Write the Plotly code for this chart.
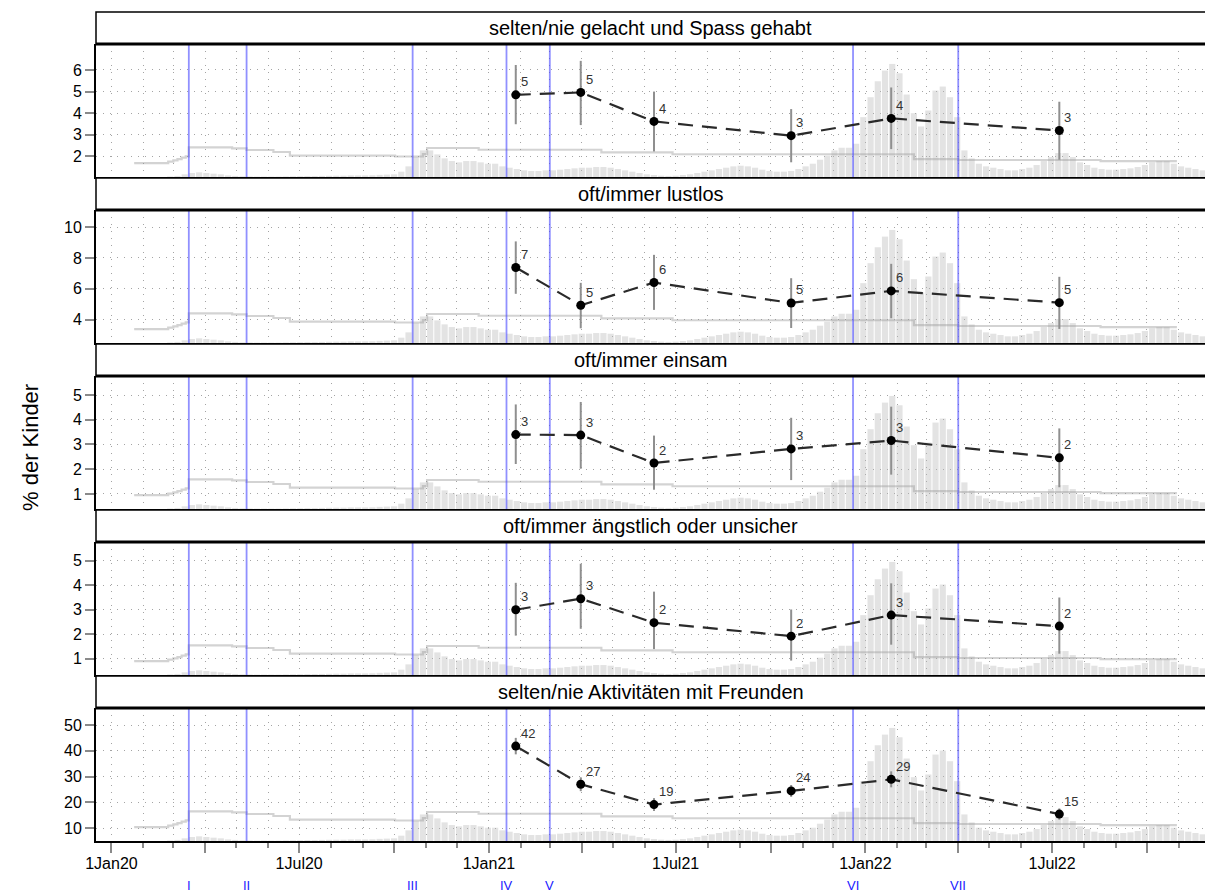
import pandas as pd
import plotly.graph_objects as go

# ---------------- data ----------------
panel_titles = [
    "selten/nie gelacht und Spass gehabt",
    "oft/immer lustlos",
    "oft/immer einsam",
    "oft/immer ängstlich oder unsicher",
    "selten/nie Aktivitäten mit Freunden",
]

survey_dates = ["2021-01-27", "2021-03-31", "2021-06-10", "2021-10-21", "2022-01-26", "2022-07-08"]

lachen_val = [4.85, 4.96, 3.62, 2.96, 3.76, 3.20]
lachen_lo = [3.49, 3.45, 2.23, 1.73, 2.34, 1.85]
lachen_hi = [6.23, 6.42, 5.00, 4.19, 5.19, 4.53]

lustlos_val = [7.38, 4.94, 6.41, 5.09, 5.87, 5.11]
lustlos_lo = [5.68, 3.45, 4.64, 3.47, 4.10, 3.41]
lustlos_hi = [9.07, 6.39, 8.20, 6.69, 7.62, 6.78]

einsam_val = [3.40, 3.38, 2.25, 2.82, 3.16, 2.46]
einsam_lo = [2.21, 2.02, 1.17, 1.56, 1.78, 1.27]
einsam_hi = [4.62, 4.72, 3.36, 4.08, 4.53, 3.65]

angst_val = [3.00, 3.45, 2.47, 1.92, 2.78, 2.33]
angst_lo = [1.94, 2.22, 1.39, 0.92, 1.57, 1.20]
angst_hi = [4.10, 4.88, 3.74, 3.01, 4.08, 3.50]

freunde_val = [41.8, 27.0, 19.1, 24.4, 28.9, 15.4]
freunde_lo = [38.6, 24.3, 16.6, 22.1, 25.8, 13.2]
freunde_hi = [45.0, 29.7, 21.6, 26.7, 32.0, 17.6]

y_ranges = [[1.05, 7.2], [2.5, 11.1], [0.39, 5.77], [0.33, 5.77], [4.95, 56.6]]
y_ticks = [[2, 3, 4, 5, 6], [4, 6, 8, 10], [1, 2, 3, 4, 5], [1, 2, 3, 4, 5], [10, 20, 30, 40, 50]]

event_dates = ["2020-03-16", "2020-05-11", "2020-10-19", "2021-01-18", "2021-03-01", "2021-12-20", "2022-04-01"]
event_labels = ["I", "II", "III", "IV", "V", "VI", "VII"]

# background: weekly case level (share of panel height), weeks starting 2020-02-24
cases_start = "2020-02-24"
cases_frac = [
    0.004,
    0.008, 0.02, 0.03, 0.035, 0.03,
    0.025, 0.02, 0.012, 0.008,
    0.005, 0.004, 0.003, 0.003,
    0.003, 0.003, 0.004, 0.005, 0.006,
    0.007, 0.007, 0.008, 0.009,
    0.01, 0.01, 0.012, 0.012, 0.012,
    0.013, 0.016, 0.018, 0.02,
    0.04, 0.08, 0.15, 0.2,
    0.2, 0.17, 0.14, 0.12, 0.11,
    0.12, 0.12, 0.11, 0.10,
    0.10, 0.08, 0.07, 0.06,
    0.05, 0.045, 0.045, 0.05,
    0.05, 0.055, 0.06, 0.065, 0.07,
    0.07, 0.075, 0.075, 0.07,
    0.06, 0.05, 0.04, 0.03, 0.02,
    0.015, 0.01, 0.008, 0.01,
    0.015, 0.02, 0.03, 0.04,
    0.05, 0.06, 0.07, 0.08, 0.085,
    0.08, 0.07, 0.055, 0.045,
    0.04, 0.04, 0.045, 0.06,
    0.08, 0.10, 0.13, 0.16, 0.2,
    0.22, 0.22, 0.25, 0.45,
    0.6, 0.72, 0.8, 0.85, 0.78,
    0.62, 0.48, 0.38, 0.5,
    0.65, 0.68, 0.6, 0.45,
    0.2, 0.14, 0.10, 0.08,
    0.07, 0.06, 0.05, 0.05, 0.06,
    0.07, 0.09, 0.12, 0.15,
    0.18, 0.18, 0.15, 0.11,
    0.09, 0.07, 0.06, 0.055, 0.055,
    0.06, 0.065, 0.075, 0.09,
    0.11, 0.12, 0.12, 0.10, 0.08,
    0.07, 0.06, 0.05,
]

# background step line (share of panel height)
step_dates = ["2020-01-23", "2020-02-25", "2020-03-01", "2020-03-05", "2020-03-09", "2020-03-13",
              "2020-03-16", "2020-04-27", "2020-05-11", "2020-06-06", "2020-06-22", "2020-10-02",
              "2020-10-29", "2020-11-02", "2020-12-22", "2021-04-20", "2021-06-28", "2022-02-17",
              "2022-04-01", "2022-08-17", "2022-10-30"]
step_frac = [0.105, 0.115, 0.125, 0.135, 0.145, 0.155,
             0.222, 0.215, 0.203, 0.188, 0.16, 0.154,
             0.172, 0.218, 0.205, 0.185, 0.171, 0.135,
             0.128, 0.12, 0.12]

series = [
    (lachen_val, lachen_lo, lachen_hi),
    (lustlos_val, lustlos_lo, lustlos_hi),
    (einsam_val, einsam_lo, einsam_hi),
    (angst_val, angst_lo, angst_hi),
    (freunde_val, freunde_lo, freunde_hi),
]

# ---------------- layout geometry ----------------
W, H = 1205, 896
XL = 96 / W
FONT = "Liberation Sans, Arial, sans-serif"
GRID = "#a4a4a4"
TICKC = "#8a8a8a"

week_dates = pd.date_range(cases_start, periods=len(cases_frac), freq="7D")
quarters = pd.date_range("2020-01-01", "2022-10-01", freq="QS")
qtext = [f"{d.day}{d.strftime('%b%y')}" if d.month in (1, 7) else "" for d in quarters]

fig = go.Figure()
layout = dict(
    template="none",
    width=W, height=H, margin=dict(l=0, r=0, t=0, b=0, pad=0, autoexpand=False),
    paper_bgcolor="white", plot_bgcolor="white", showlegend=False,
    font=dict(family=FONT, color="black"),
    shapes=[], annotations=[],
)

for k in range(5):
    n = k + 1
    xa, ya = f"x{n}", f"y{n}"
    top_px = 44 + 166 * k
    bot_px = 177 + 166 * k
    y0, y1 = y_ranges[k]
    span = y1 - y0
    val, lo, hi = series[k]

    # background bars
    fig.add_trace(go.Bar(
        x=week_dates, y=[f * span for f in cases_frac], base=y0,
        width=6 * 86400000, offset=0,
        marker=dict(color="rgba(185,185,185,0.40)", line=dict(width=0)),
        xaxis=xa, yaxis=ya, hoverinfo="skip"))
    # background step line
    fig.add_trace(go.Scatter(
        x=step_dates, y=[y0 + f * span for f in step_frac], mode="lines",
        line=dict(color="rgba(150,150,150,0.42)", width=2.2, shape="hv"),
        xaxis=xa, yaxis=ya, hoverinfo="skip"))
    # event lines
    ex, ey = [], []
    for d in event_dates:
        ex += [d, d, None]
        ey += [y0, y1, None]
    fig.add_trace(go.Scatter(
        x=ex, y=ey, mode="lines", line=dict(color="rgba(70,70,255,0.6)", width=1.8),
        xaxis=xa, yaxis=ya, hoverinfo="skip"))
    # error bars
    fig.add_trace(go.Scatter(
        x=survey_dates, y=val, mode="markers",
        marker=dict(color="rgba(0,0,0,0)", size=2),
        error_y=dict(type="data", symmetric=False,
                     array=[h - v for h, v in zip(hi, val)],
                     arrayminus=[v - l for v, l in zip(val, lo)],
                     color="#8f8f8f", thickness=2, width=0),
        xaxis=xa, yaxis=ya, hoverinfo="skip"))
    # estimates
    fig.add_trace(go.Scatter(
        x=survey_dates, y=val, mode="lines+markers",
        line=dict(color="#2a2a2a", width=2.2, dash="15px,9px"),
        marker=dict(color="black", size=9),
        xaxis=xa, yaxis=ya, hoverinfo="skip"))
    for d, v in zip(survey_dates, val):
        layout["annotations"].append(dict(
            x=d, y=v, xref=xa, yref=ya, text=str(round(v)), showarrow=False,
            xanchor="left", yanchor="middle", xshift=3, yshift=13,
            font=dict(size=13, color="#333333", family=FONT)))

    dom_y = [1 - bot_px / H, 1 - top_px / H]
    bottom = (k == 4)
    layout[f"xaxis{n}" if n > 1 else "xaxis"] = dict(
        type="date", range=["2019-12-17", "2022-11-26 06:00"], domain=[XL, 1],
        anchor=ya, automargin=False, tickmode="array", tickvals=quarters, ticktext=qtext,
        showticklabels=bottom, ticks="outside" if bottom else "", ticklabelstandoff=-3,
        ticklen=10, tickwidth=1.5, tickcolor=TICKC, tickfont=dict(size=16, family=FONT),
        showgrid=True, gridcolor=GRID, gridwidth=1, griddash="1px,6px",
        minor=dict(dtick="M1", tick0="2020-01-01", showgrid=True, gridcolor=GRID,
                   gridwidth=1, griddash="1px,6px", ticks="outside" if bottom else "",
                   ticklen=5, tickwidth=1.5, tickcolor=TICKC),
        showline=True, linecolor="black", linewidth=2, zeroline=False,
        matches=None if n == 5 else "x5", fixedrange=True)
    layout[f"yaxis{n}" if n > 1 else "yaxis"] = dict(
        range=[y0, y1], domain=dom_y, anchor=xa, automargin=False,
        tickmode="array", tickvals=y_ticks[k],
        ticks="outside", ticklen=9, tickwidth=1.5, tickcolor=TICKC,
        tickfont=dict(size=16, family=FONT),
        showgrid=True, gridcolor=GRID, gridwidth=1, griddash="1px,6px",
        showline=True, linecolor="black", linewidth=2, zeroline=False, fixedrange=True)

    # strip box
    st_top = 12 + 166 * k
    layout["shapes"].append(dict(
        type="rect", xref="paper", yref="paper", x0=XL, x1=1.01,
        y0=1 - top_px / H, y1=1 - st_top / H,
        line=dict(color="black", width=1.5), fillcolor="white", layer="above"))
    layout["shapes"].append(dict(
        type="line", xref="paper", yref="paper", x0=XL, x1=1.01,
        y0=1 - top_px / H, y1=1 - top_px / H,
        line=dict(color="black", width=3), layer="above"))
    layout["annotations"].append(dict(
        x=(XL + 1) / 2, y=1 - (st_top + top_px) / 2 / H, xref="paper", yref="paper",
        text=panel_titles[k], showarrow=False, xanchor="center", yanchor="middle",
        font=dict(size=20, color="black", family=FONT)))

# event labels under the x axis
for d, lab in zip(event_dates, event_labels):
    layout["annotations"].append(dict(
        x=d, y=1 - 885 / H, xref="x5", yref="paper", text=lab, showarrow=False,
        xanchor="center", yanchor="middle", font=dict(size=13, color="#2020ff", family=FONT)))

layout["annotations"].append(dict(
    x=30 / W, y=1 - 448 / H, xref="paper", yref="paper", text="% der Kinder",
    showarrow=False, textangle=-90, xanchor="center", yanchor="middle",
    font=dict(size=22, color="black", family=FONT)))

fig.update_layout(**layout)
fig.write_html("out.html", config={"displayModeBar": False},
               post_script="document.body.style.margin='0px';")
